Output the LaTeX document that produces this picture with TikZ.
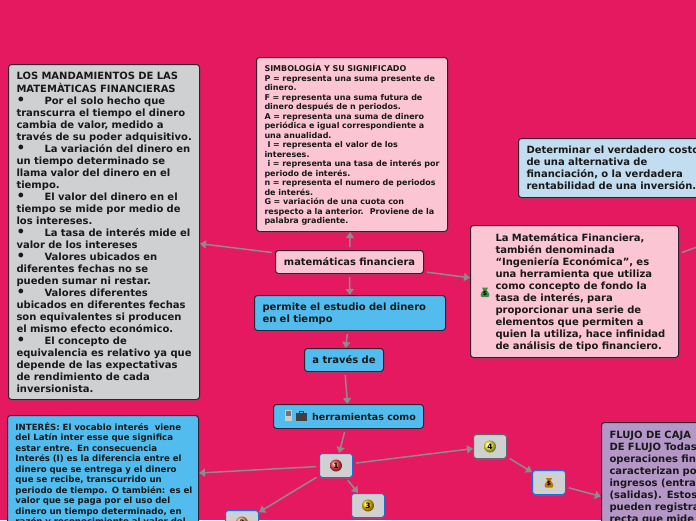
\documentclass[tikz,border=0pt]{standalone}
\usepackage{fontspec}
\setmainfont{DejaVu Sans}
\usetikzlibrary{arrows.meta,shadows}
\definecolor{fondo}{HTML}{E5195F}
\definecolor{gris}{HTML}{CFD0D2}
\definecolor{rosa}{HTML}{FBC5D3}
\definecolor{azul}{HTML}{52BCEE}
\definecolor{celeste}{HTML}{C2DCF0}
\definecolor{lila}{HTML}{B497C7}
\definecolor{borde}{HTML}{2A2230}
\definecolor{flecha}{HTML}{8C8C8C}
\definecolor{azulborde}{HTML}{1B6FD6}
\newcommand\bala{\makebox[28pt][l]{\raisebox{-.8pt}[0pt][0pt]{\fontsize{13.5}{12}\selectfont•}}}
\newcommand\lineas[1]{\makebox[\hsize][l]{\raisebox{-1.2pt}[\height][\depth]{\begin{tabular}{@{}l@{}}#1\end{tabular}}}}
\tikzset{
    caja/.style={draw=borde, line width=1pt, rounded corners=3pt, anchor=north west,
        inner xsep=8pt, inner ysep=4pt, align=left, text=black!90,
        drop shadow={shadow xshift=0pt, shadow yshift=-1pt, opacity=.45}},
    textoG/.style={font=\fontsize{10}{12}\selectfont\bfseries},
    textoM/.style={font=\fontsize{8.6}{10.5}\selectfont\bfseries},
    textoS/.style={font=\fontsize{8}{9.5}\selectfont\bfseries},
    chica/.style={caja, fill=gris, draw=azulborde, minimum width=33pt, minimum height=24pt, inner sep=0pt},
    bola/.style={circle, inner sep=0pt, minimum size=12pt, ball color=#1, text=black,
        font=\fontsize{7.5}{8}\selectfont\bfseries},
    enlace/.style={draw=flecha, line width=1.5pt, shorten <=3pt, -{Triangle[width=8pt,length=6pt]}},
    bolsa/.pic={
        \fill[#1] (-3,-4.5) -- (3,-4.5) -- (1.6,-1.5) .. controls (5,1) and (5,5) .. (3,5)
            -- (-3,5) .. controls (-5,5) and (-5,1) .. (-1.6,-1.5) -- cycle;
        \node[font=\fontsize{6}{6}\selectfont\bfseries, text=black, inner sep=0pt] at (0,1.5) {\$};
    }
}
\begin{document}
\begin{tikzpicture}[x=1pt, y=-1pt, line join=round]
    \path[use as bounding box, clip] (0,0) rectangle (696,520);
    \fill[fondo] (0,0) rectangle (696,520);

    % centro
    \node[caja, font=\fontsize{9.9}{12}\selectfont\bfseries, fill=rosa, minimum width=148pt, minimum height=23pt, inner sep=0pt, align=center] (centro) at (275,250) {matemáticas financiera};

    % mandamientos
    \node[caja, textoG, fill=gris, text width=175pt, minimum height=335pt] (mandamientos) at (8,64) {\lineas{LOS MANDAMIENTOS DE LAS\\
MATEMÀTICAS FINANCIERAS\\
\bala Por el solo hecho que\\
transcurra el tiempo el dinero\\
cambia de valor, medido a\\
través de su poder adquisitivo.\\
\bala La variación del dinero en\\
un tiempo determinado se\\
llama valor del dinero en el\\
tiempo.\\
\bala El valor del dinero en el\\
tiempo se mide por medio de\\
los intereses.\\
\bala La tasa de interés mide el\\
valor de los intereses\\
\bala Valores ubicados en\\
diferentes fechas no se\\
pueden sumar ni restar.\\
\bala Valores diferentes\\
ubicados en diferentes fechas\\
son equivalentes si producen\\
el mismo efecto económico.\\
\bala El concepto de\\
equivalencia es relativo ya que\\
depende de las expectativas\\
de rendimiento de cada\\
inversionista.}};

    % simbologia
    \node[caja, textoS, fill=rosa, text width=175pt, minimum height=174pt] (simbologia) at (256,57) {\lineas{SIMBOLOGÍA Y SU SIGNIFICADO\\
P = representa una suma presente de\\
dinero.\\
F = representa una suma futura de\\
dinero después de n periodos.\\
A = representa una suma de dinero\\
periódica e igual correspondiente a\\
una anualidad.\\
\hspace*{3pt}I = representa el valor de los\\
intereses.\\
\hspace*{3pt}i = representa una tasa de interés por\\
periodo de interés.\\
n = representa el numero de periodos\\
de interés.\\
G = variación de una cuota con\\
respecto a la anterior.\hspace{6pt}Proviene de la\\
palabra gradiente.}};

    % definicion
    \node[caja, textoG, fill=rosa, text width=158pt, inner xsep=25pt, minimum height=132pt] (definicion) at (470,225) {\lineas{La Matemática Financiera,\\
también denominada\\
“Ingeniería Económica”, es\\
una herramienta que utiliza\\
como concepto de fondo la\\
tasa de interés, para\\
proporcionar una serie de\\
elementos que permiten a\\
quien la utiliza, hace infinidad\\
de análisis de tipo financiero.}};
    \pic at (485,292) {bolsa={green!45!black!70!gris}};
    \coordinate (salida) at (730,235);

    \node[caja, textoG, fill=celeste, text width=200pt, minimum height=59pt] (objetivo) at (518,138) {\lineas{Determinar el verdadero costo\\
de una alternativa de\\
financiación, o la verdadera\\
rentabilidad de una inversión.}};

    % cadena central
    \node[caja, textoG, fill=azul, text width=175pt, minimum height=35pt] (permite) at (254,295) {\lineas{permite el estudio del dinero\\
en el tiempo}};
    \node[caja, textoG, fill=azul, minimum width=79pt, minimum height=23pt, inner sep=0pt, align=center] (atraves) at (304,348) {a través de};
    \node[caja, font=\fontsize{9.5}{12}\selectfont\bfseries, fill=azul, minimum width=150pt, minimum height=24pt, inner sep=0pt, align=center] (herramientas) at (273,404) {\hspace*{31pt}herramientas como};
    \fill[gray!40] (285,410) rectangle (292,421);
    \fill[gray!90!black] (286,411) rectangle (291,416);
    \fill[black!75] (296,413) rectangle (307,421);
    \draw[black!75, line width=.8pt] (299.5,413) -- (299.5,411.5) -- (303.5,411.5) -- (303.5,413);

    % interes
    \node[caja, textoM, fill=azul, text width=175pt, inner ysep=5.5pt] (interes) at (7,415) {\lineas{INTERÉS: El vocablo interés\hspace{6pt}viene\\
del Latín inter esse que significa\\
estar entre. En consecuencia\\
Interés (I) es la diferencia entre el\\
dinero que se entrega y el dinero\\
que se recibe, transcurrido un\\
periodo de tiempo. O también: es el\\
valor que se paga por el uso del\\
dinero un tiempo determinado, en\\
razón y reconocimiento al valor del\\[9pt]}};

    % flujo
    \node[caja, textoG, fill=lila, text width=175pt, inner ysep=6pt] (flujo) at (601,422) {\lineas{FLUJO DE CAJA\\
DE FLUJO Todas\\
operaciones fina\\
caracterizan po\\
ingresos (entra\\
(salidas). Estos\\
pueden registra\\
recta que mide\\[91pt]}};

    % numeros
    \node[chica] (uno) at (319,453) {};
    \node[chica] (dos) at (225,510) {};
    \node[chica] (tres) at (351,493) {};
    \node[chica, draw=borde!70] (cuatro) at (473,434) {};
    \node[chica] (saco) at (532,470) {};
    \node[bola=red!70!white] (bolauno) at (uno.center) {1};
    \node[bola=orange!60!white] (bolados) at (dos.center) {2};
    \node[bola=orange!40!yellow] (bolatres) at (tres.center) {3};
    \node[bola=yellow!80!white] (bolacuatro) at (cuatro.center) {4};
    \pic at (saco.center) {bolsa={orange!65!black!80!yellow}};

    % conectores
    \draw[enlace] (centro) -- (mandamientos);
    \draw[enlace] (centro) -- (simbologia);
    \draw[enlace] (centro) -- (definicion);
    \draw[enlace] (centro) -- (permite);
    \draw[enlace] (permite) -- (atraves);
    \draw[enlace] (atraves) -- (herramientas);
    \draw[enlace] (herramientas) -- (uno);
    \draw[enlace] (uno) -- (interes);
    \draw[enlace] (uno) -- (dos);
    \draw[enlace] (uno) -- (tres);
    \draw[enlace] (uno) -- (cuatro);
    \draw[enlace] (cuatro) -- (saco);
    \draw[enlace] (saco) -- (flujo);
    \draw[enlace] (definicion) -- (salida);
\end{tikzpicture}
\end{document}
